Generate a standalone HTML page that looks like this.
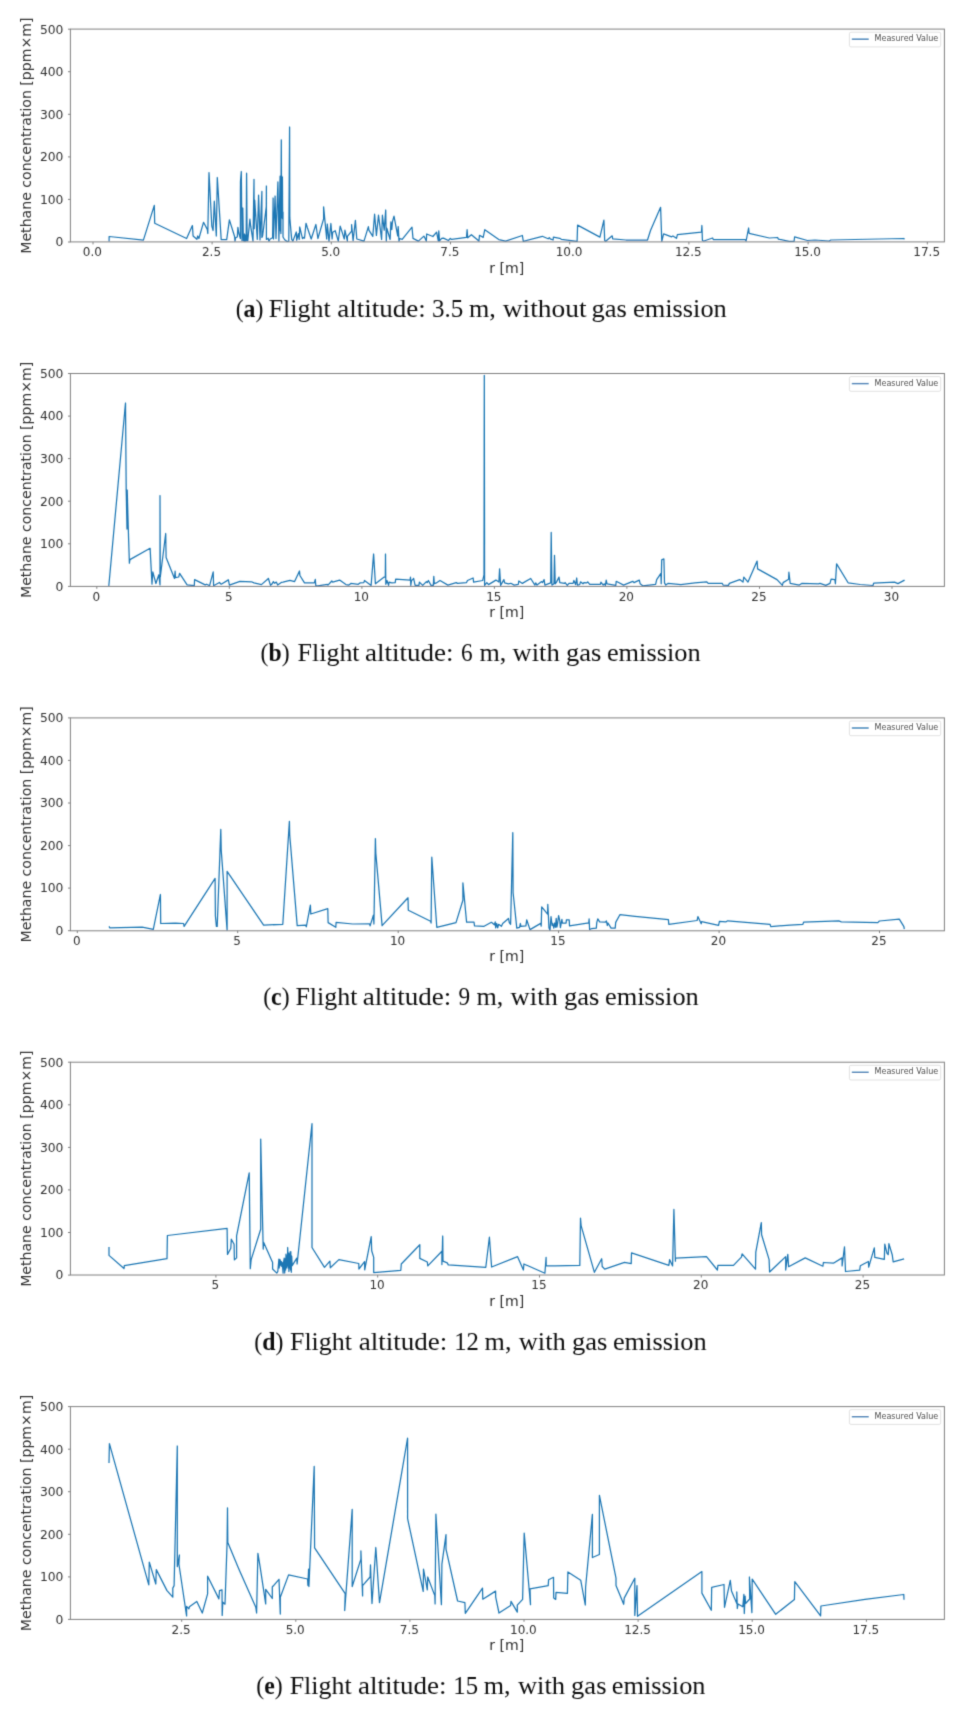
<!DOCTYPE html>
<html lang="en"><head><meta charset="utf-8"><title>Methane concentration vs r</title>
<style>
html,body{margin:0;padding:0;background:#fff;}
body{width:966px;height:1710px;overflow:hidden;}
svg{display:block;}
.plot{filter:url(#soft);}
.t{font-family:"DejaVu Sans","Liberation Sans",sans-serif;fill:#303030;}
.tk{font-size:12.0px;}
.ty{font-size:12.3px;}
.lb{font-size:14.1px;}
.lg{font-size:8px;}
.cap{font-family:"Liberation Serif","DejaVu Serif",serif;font-size:24.5px;fill:#111;}
.sp{fill:none;stroke:#808080;stroke-width:1.0;}
.tm{stroke:#808080;stroke-width:1;}
.ln{fill:none;stroke:#1f77b4;stroke-width:1.25;stroke-linejoin:round;stroke-linecap:butt;}
</style></head><body>
<svg width="966" height="1710" viewBox="0 0 966 1710">
<defs><filter id="soft" x="-5%" y="-5%" width="110%" height="110%"><feConvolveMatrix order="3" kernelMatrix="0.0196 0.1008 0.0196 0.1008 0.5184 0.1008 0.0196 0.1008 0.0196" divisor="1" edgeMode="none" preserveAlpha="false"/></filter></defs>
<rect width="966" height="1710" fill="#fff"/>

<g class="plot">
<polyline class="ln" points="109.1,241.5 109.1,236.5 143.4,240.1 154.3,205.4 154.7,223.3 186.6,238.5 192.4,225.6 193.1,236.0 196.9,239.3 197.7,236.0 198.9,238.5 203.5,222.3 207.3,229.4 207.8,233.5 209.0,172.6 211.8,226.1 213.1,230.5 214.3,201.2 216.3,236.0 217.3,177.5 221.2,239.6 226.7,239.6 229.4,219.9 234.6,236.5 235.0,241.1 235.6,237.8 237.3,237.0 237.9,227.4 238.7,232.8 240.4,238.6 240.4,191.0 240.5,181.5 241.3,171.5 242.0,240.7 242.8,208.0 243.4,240.7 243.8,235.0 244.2,241.0 244.6,234.0 245.0,241.0 245.4,235.5 245.8,241.0 246.2,236.0 246.6,173.2 247.1,240.7 247.8,240.7 249.9,219.2 250.7,226.2 253.0,241.1 254.0,179.4 254.2,228.7 254.7,200.1 257.3,239.4 258.6,195.1 260.0,239.9 261.9,191.4 261.9,237.4 262.6,236.0 266.3,206.5 266.4,186.0 266.4,239.4 268.1,238.2 268.9,241.1 270.2,239.0 272.6,237.8 273.1,198.0 273.5,239.0 275.1,196.0 276.0,238.6 277.9,181.9 278.9,241.1 280.1,176.1 280.4,231.0 280.7,177.0 280.9,233.6 281.1,176.0 281.3,139.8 281.6,216.0 281.9,176.0 282.1,218.0 282.4,177.0 282.7,219.0 283.0,212.0 283.0,237.0 284.7,239.8 287.1,241.5 288.8,241.1 289.6,127.0 289.8,217.9 291.7,239.4 292.9,241.1 296.3,232.0 296.7,240.3 298.3,233.6 299.2,239.4 299.7,227.0 302.5,238.6 303.3,237.4 304.5,238.2 306.0,223.3 307.4,227.8 311.2,239.0 315.9,224.5 317.9,238.5 323.6,218.8 323.6,206.9 326.7,239.0 327.3,224.0 329.0,241.1 330.9,223.5 332.1,239.0 332.7,232.3 335.2,230.7 338.3,241.1 340.2,226.1 344.3,239.0 344.9,230.2 347.4,241.1 347.4,236.4 351.6,231.2 351.6,224.5 353.1,240.6 355.4,220.4 356.8,239.0 364.0,241.1 368.4,226.6 368.9,230.2 372.8,236.4 374.6,214.2 376.4,235.4 378.5,215.2 381.6,239.5 382.4,215.2 384.2,230.2 385.7,210.0 386.3,241.1 386.8,228.1 390.1,239.5 390.9,221.9 391.8,229.5 392.5,221.5 394.0,216.2 397.7,235.9 398.2,226.6 399.0,241.1 399.7,238.5 402.2,239.4 412.0,227.2 413.0,238.4 418.4,241.1 423.9,236.1 424.8,237.8 426.3,241.1 426.7,234.0 432.9,236.5 436.6,232.2 438.3,240.9 438.8,230.9 439.5,240.9 441.6,238.4 443.5,238.1 448.4,240.5 450.3,238.4 451.6,239.4 466.5,237.4 467.1,229.7 467.7,237.8 471.4,234.7 478.9,241.1 479.5,235.3 483.2,237.4 484.8,229.7 498.8,239.6 505.6,241.2 522.4,235.5 523.3,241.3 542.3,236.3 548.1,238.8 549.4,237.6 550.1,238.8 553.1,240.0 553.4,237.1 559.7,238.3 561.3,239.3 577.1,241.3 577.6,225.1 599.9,237.1 603.9,220.2 604.7,240.5 605.7,241.3 612.2,235.8 612.7,238.8 625.9,240.0 647.5,240.0 650.5,230.5 660.6,207.3 661.8,241.3 663.6,233.8 671.6,236.8 672.9,236.0 676.5,238.3 677.4,234.7 701.4,232.2 701.9,225.5 702.4,240.5 703.9,241.0 712.6,238.0 713.3,239.6 745.3,239.6 746.1,241.0 748.6,228.0 749.1,233.3 769.3,238.0 777.6,237.5 778.4,239.1 789.2,241.3 794.1,241.3 794.6,236.8 807.4,240.5 815.0,240.0 829.2,241.0 830.8,240.0 903.7,238.5 904.5,239.3"/>
<rect class="sp" x="70.4" y="29.1" width="874.0" height="212.8"/>
<line class="tm" x1="68.0" x2="70.4" y1="242.0" y2="242.0"/>
<text class="t tk ty" text-anchor="end" x="63.4" y="246.3">0</text>
<line class="tm" x1="68.0" x2="70.4" y1="199.4" y2="199.4"/>
<text class="t tk ty" text-anchor="end" x="63.4" y="203.7">100</text>
<line class="tm" x1="68.0" x2="70.4" y1="156.9" y2="156.9"/>
<text class="t tk ty" text-anchor="end" x="63.4" y="161.2">200</text>
<line class="tm" x1="68.0" x2="70.4" y1="114.3" y2="114.3"/>
<text class="t tk ty" text-anchor="end" x="63.4" y="118.6">300</text>
<line class="tm" x1="68.0" x2="70.4" y1="71.7" y2="71.7"/>
<text class="t tk ty" text-anchor="end" x="63.4" y="76.0">400</text>
<line class="tm" x1="68.0" x2="70.4" y1="29.2" y2="29.2"/>
<text class="t tk ty" text-anchor="end" x="63.4" y="33.5">500</text>
<line class="tm" x1="93.0" x2="93.0" y1="242.0" y2="244.4"/>
<text class="t tk" text-anchor="middle" x="92.4" y="256.2">0.0</text>
<line class="tm" x1="212.1" x2="212.1" y1="242.0" y2="244.4"/>
<text class="t tk" text-anchor="middle" x="211.5" y="256.2">2.5</text>
<line class="tm" x1="331.3" x2="331.3" y1="242.0" y2="244.4"/>
<text class="t tk" text-anchor="middle" x="330.7" y="256.2">5.0</text>
<line class="tm" x1="450.5" x2="450.5" y1="242.0" y2="244.4"/>
<text class="t tk" text-anchor="middle" x="449.9" y="256.2">7.5</text>
<line class="tm" x1="569.7" x2="569.7" y1="242.0" y2="244.4"/>
<text class="t tk" text-anchor="middle" x="569.1" y="256.2">10.0</text>
<line class="tm" x1="688.9" x2="688.9" y1="242.0" y2="244.4"/>
<text class="t tk" text-anchor="middle" x="688.3" y="256.2">12.5</text>
<line class="tm" x1="808.1" x2="808.1" y1="242.0" y2="244.4"/>
<text class="t tk" text-anchor="middle" x="807.5" y="256.2">15.0</text>
<line class="tm" x1="927.3" x2="927.3" y1="242.0" y2="244.4"/>
<text class="t tk" text-anchor="middle" x="926.7" y="256.2">17.5</text>
<text class="t lb" text-anchor="middle" transform="translate(31.2 135.6) rotate(-90)">Methane concentration [ppm×m]</text>
<text class="t lb" text-anchor="middle" x="506.8" y="272.7">r [m]</text>
<rect x="849.4" y="32.2" width="91.3" height="14.7" rx="1.6" fill="#fff" stroke="#d9d9d9" stroke-width="0.8"/>
<line x1="851.8" x2="868.7" y1="39.2" y2="39.2" stroke="#1f77b4" stroke-width="1.4"/>
<text class="t lg" x="874.6" y="41.3">Measured Value</text>
<g class="cap">
<text transform="translate(235.7 316.6) scale(0.970 1)">(<tspan font-weight="bold">a</tspan>)</text>
<text transform="translate(268.7 316.6) scale(1.058 1)">Flight</text>
<text transform="translate(337.3 316.6) scale(1.103 1)">altitude:</text>
<text transform="translate(431.9 316.6) scale(1.024 1)">3.5</text>
<text transform="translate(468.9 316.6) scale(1.065 1)">m,</text>
<text transform="translate(502.8 316.6) scale(1.120 1)">without</text>
<text transform="translate(591.4 316.6) scale(1.084 1)">gas</text>
<text transform="translate(633.1 316.6) scale(1.076 1)">emission</text>
</g>
</g>
<g class="plot">
<polyline class="ln" points="108.8,586.0 125.5,403.0 126.2,490.0 127.0,529.1 127.2,490.0 128.3,529.0 129.4,563.2 129.9,559.6 150.1,548.3 152.0,584.2 152.8,571.9 155.9,583.5 158.8,574.8 160.0,584.9 160.0,495.5 160.3,577.0 165.7,533.5 166.1,557.4 174.5,578.4 175.1,571.2 175.5,577.7 178.7,577.0 179.6,573.3 187.1,584.9 194.3,585.7 194.6,579.6 205.2,584.9 206.7,584.2 209.6,585.7 213.2,571.9 213.6,585.7 219.4,582.5 221.2,584.2 228.4,579.9 229.4,585.1 239.9,581.3 251.5,581.8 254.0,582.9 261.4,584.6 268.4,578.5 270.5,585.4 271.7,584.3 273.4,581.6 274.4,583.3 276.3,582.1 277.7,585.1 281.3,582.4 283.0,582.1 289.9,580.3 294.6,581.6 299.5,571.0 299.9,575.5 304.5,582.9 314.4,582.9 315.3,579.3 315.8,585.8 317.8,585.8 327.4,584.3 328.0,585.1 331.8,581.0 332.7,582.1 339.6,580.1 345.9,584.6 348.9,585.1 350.9,583.4 358.3,584.3 360.0,582.9 363.8,582.6 364.5,580.5 371.1,585.4 373.6,554.0 375.4,583.8 384.2,577.1 385.3,577.1 385.5,554.0 385.8,584.3 387.0,580.5 388.6,585.4 389.1,582.1 391.6,582.9 395.2,582.6 395.7,579.1 410.1,580.1 410.5,577.1 410.8,585.4 411.5,580.5 413.1,579.3 413.6,578.3 415.1,585.4 418.9,585.4 419.4,582.1 422.7,585.4 426.4,581.6 427.2,582.6 428.4,580.5 431.0,585.4 433.3,585.4 433.8,576.3 434.3,583.8 436.3,582.9 440.0,580.5 447.9,585.1 456.2,582.6 457.5,583.4 466.5,582.6 467.5,580.5 473.1,578.0 473.6,582.1 482.7,580.5 484.0,575.0 484.3,375.3 484.6,585.4 486.8,582.6 488.5,584.6 495.9,580.1 498.9,582.1 499.6,568.9 500.6,585.4 503.9,579.6 504.6,582.9 508.4,583.8 510.8,583.3 514.2,585.1 518.3,584.3 518.8,581.0 522.4,583.4 530.7,578.5 534.9,585.1 535.7,582.9 537.0,585.1 541.6,581.6 542.5,582.6 544.1,579.6 544.9,585.1 550.7,582.9 551.2,532.4 551.9,585.1 554.0,583.8 554.5,555.3 555.2,583.8 556.5,582.1 559.0,577.1 559.8,582.6 564.5,583.4 565.1,582.6 567.3,585.4 569.0,583.4 573.1,583.4 573.9,580.5 575.6,584.6 576.7,578.0 577.4,585.1 579.7,584.6 580.5,581.8 583.0,583.8 583.9,582.6 586.7,582.9 587.7,581.8 589.7,584.3 600.4,584.3 600.9,582.1 603.2,585.1 604.2,583.8 605.4,585.4 606.2,580.1 607.0,583.8 615.8,585.4 616.2,581.3 623.6,585.1 632.7,581.3 634.0,582.6 639.3,580.1 640.2,583.8 642.7,585.8 655.6,584.3 656.7,579.6 660.9,573.3 661.2,583.8 661.7,559.8 663.9,558.9 664.5,582.9 665.8,585.1 668.3,583.3 680.8,584.6 695.0,582.9 706.6,581.8 708.2,583.4 722.3,583.4 723.1,585.1 728.4,585.4 729.4,583.4 739.7,579.6 743.0,582.1 743.8,577.1 748.0,582.1 757.1,561.1 757.6,568.9 777.0,579.6 782.4,585.4 783.1,582.6 788.6,579.3 788.9,572.2 790.2,583.4 799.3,585.1 801.8,583.4 818.4,583.8 820.0,583.3 825.8,585.4 830.0,583.4 831.1,579.1 834.9,579.6 835.4,583.8 836.6,563.9 848.1,582.8 860.2,584.5 873.0,585.5 873.7,583.2 894.5,582.1 897.9,583.6 904.6,580.1"/>
<rect class="sp" x="70.4" y="373.5" width="874.0" height="212.9"/>
<line class="tm" x1="68.0" x2="70.4" y1="586.4" y2="586.4"/>
<text class="t tk ty" text-anchor="end" x="63.4" y="590.7">0</text>
<line class="tm" x1="68.0" x2="70.4" y1="543.8" y2="543.8"/>
<text class="t tk ty" text-anchor="end" x="63.4" y="548.1">100</text>
<line class="tm" x1="68.0" x2="70.4" y1="501.2" y2="501.2"/>
<text class="t tk ty" text-anchor="end" x="63.4" y="505.5">200</text>
<line class="tm" x1="68.0" x2="70.4" y1="458.6" y2="458.6"/>
<text class="t tk ty" text-anchor="end" x="63.4" y="462.9">300</text>
<line class="tm" x1="68.0" x2="70.4" y1="416.1" y2="416.1"/>
<text class="t tk ty" text-anchor="end" x="63.4" y="420.4">400</text>
<line class="tm" x1="68.0" x2="70.4" y1="373.5" y2="373.5"/>
<text class="t tk ty" text-anchor="end" x="63.4" y="377.8">500</text>
<line class="tm" x1="96.8" x2="96.8" y1="586.4" y2="588.8"/>
<text class="t tk" text-anchor="middle" x="96.2" y="600.6">0</text>
<line class="tm" x1="229.3" x2="229.3" y1="586.4" y2="588.8"/>
<text class="t tk" text-anchor="middle" x="228.7" y="600.6">5</text>
<line class="tm" x1="361.9" x2="361.9" y1="586.4" y2="588.8"/>
<text class="t tk" text-anchor="middle" x="361.3" y="600.6">10</text>
<line class="tm" x1="494.4" x2="494.4" y1="586.4" y2="588.8"/>
<text class="t tk" text-anchor="middle" x="493.8" y="600.6">15</text>
<line class="tm" x1="626.9" x2="626.9" y1="586.4" y2="588.8"/>
<text class="t tk" text-anchor="middle" x="626.3" y="600.6">20</text>
<line class="tm" x1="759.5" x2="759.5" y1="586.4" y2="588.8"/>
<text class="t tk" text-anchor="middle" x="758.9" y="600.6">25</text>
<line class="tm" x1="892.0" x2="892.0" y1="586.4" y2="588.8"/>
<text class="t tk" text-anchor="middle" x="891.4" y="600.6">30</text>
<text class="t lb" text-anchor="middle" transform="translate(31.2 479.9) rotate(-90)">Methane concentration [ppm×m]</text>
<text class="t lb" text-anchor="middle" x="506.8" y="617.1">r [m]</text>
<rect x="849.4" y="376.6" width="91.3" height="14.7" rx="1.6" fill="#fff" stroke="#d9d9d9" stroke-width="0.8"/>
<line x1="851.8" x2="868.7" y1="383.6" y2="383.6" stroke="#1f77b4" stroke-width="1.4"/>
<text class="t lg" x="874.6" y="385.7">Measured Value</text>
<g class="cap">
<text transform="translate(260.5 661.0) scale(0.970 1)">(<tspan font-weight="bold">b</tspan>)</text>
<text transform="translate(297.6 661.0) scale(1.058 1)">Flight</text>
<text transform="translate(364.9 661.0) scale(1.103 1)">altitude:</text>
<text transform="translate(461.1 661.0) scale(0.950 1)">6</text>
<text transform="translate(479.4 661.0) scale(1.065 1)">m,</text>
<text transform="translate(512.5 661.0) scale(1.084 1)">with</text>
<text transform="translate(566.0 661.0) scale(1.084 1)">gas</text>
<text transform="translate(606.9 661.0) scale(1.076 1)">emission</text>
</g>
</g>
<g class="plot">
<polyline class="ln" points="109.0,926.4 109.9,927.9 142.2,927.1 153.3,929.3 160.4,894.5 160.7,923.5 175.3,923.1 183.6,923.5 184.1,926.4 215.1,878.4 215.4,916.0 216.4,926.4 217.2,926.4 220.8,829.4 221.2,849.8 227.1,930.1 227.1,871.3 263.6,925.1 282.8,924.3 289.4,821.3 289.7,834.8 297.2,925.6 305.5,925.1 306.3,926.8 310.4,905.2 310.8,914.0 327.8,908.6 328.1,922.6 335.8,927.3 336.1,922.3 352.7,924.0 369.6,923.8 370.1,925.9 373.4,915.2 373.9,924.0 375.4,838.7 375.8,853.1 382.1,925.6 408.0,897.8 408.3,910.2 430.6,921.3 431.1,923.0 431.8,857.2 436.8,927.3 456.0,922.6 462.9,900.3 462.9,882.9 466.6,922.1 474.0,922.1 474.5,925.9 484.1,926.3 491.4,922.3 494.4,924.8 495.2,921.8 495.7,927.9 496.7,923.5 497.7,927.9 498.6,924.3 501.4,926.3 502.7,923.5 508.5,918.5 509.3,922.6 510.6,924.3 512.8,832.7 513.1,892.8 516.8,928.1 519.6,927.3 520.4,923.5 520.9,926.4 525.9,925.9 526.7,919.8 530.0,929.6 540.7,923.4 541.2,926.1 541.7,906.9 547.6,914.2 547.8,904.3 549.0,928.1 550.0,930.2 551.0,916.7 552.1,925.5 552.8,923.5 553.8,928.1 554.7,923.0 555.5,927.1 556.2,918.3 556.9,927.1 557.6,923.5 558.6,915.7 559.8,920.9 560.4,927.6 561.9,919.3 562.4,923.0 566.1,923.0 566.4,919.9 569.2,919.9 569.5,925.9 588.8,922.8 589.1,918.8 589.6,929.5 591.4,928.7 596.3,928.1 596.8,922.4 597.8,918.8 599.7,921.9 605.4,922.1 606.4,920.9 607.3,925.5 608.0,923.0 611.1,928.1 615.2,928.1 615.7,922.4 619.9,914.7 635.0,916.4 668.4,919.6 668.8,924.3 697.1,920.5 697.9,916.6 701.2,923.8 701.6,921.6 718.6,925.4 719.4,921.3 726.1,921.8 727.7,920.8 770.0,924.3 770.8,926.6 790.0,925.1 802.9,924.3 803.6,922.1 838.8,920.8 841.3,921.8 877.8,922.6 879.4,921.0 899.3,919.1 903.9,926.6 904.3,929.2"/>
<rect class="sp" x="70.4" y="717.9" width="874.0" height="212.9"/>
<line class="tm" x1="68.0" x2="70.4" y1="930.7" y2="930.7"/>
<text class="t tk ty" text-anchor="end" x="63.4" y="935.0">0</text>
<line class="tm" x1="68.0" x2="70.4" y1="888.1" y2="888.1"/>
<text class="t tk ty" text-anchor="end" x="63.4" y="892.4">100</text>
<line class="tm" x1="68.0" x2="70.4" y1="845.6" y2="845.6"/>
<text class="t tk ty" text-anchor="end" x="63.4" y="849.9">200</text>
<line class="tm" x1="68.0" x2="70.4" y1="803.0" y2="803.0"/>
<text class="t tk ty" text-anchor="end" x="63.4" y="807.3">300</text>
<line class="tm" x1="68.0" x2="70.4" y1="760.4" y2="760.4"/>
<text class="t tk ty" text-anchor="end" x="63.4" y="764.7">400</text>
<line class="tm" x1="68.0" x2="70.4" y1="717.9" y2="717.9"/>
<text class="t tk ty" text-anchor="end" x="63.4" y="722.2">500</text>
<line class="tm" x1="77.3" x2="77.3" y1="930.7" y2="933.1"/>
<text class="t tk" text-anchor="middle" x="76.7" y="944.9">0</text>
<line class="tm" x1="237.7" x2="237.7" y1="930.7" y2="933.1"/>
<text class="t tk" text-anchor="middle" x="237.1" y="944.9">5</text>
<line class="tm" x1="398.2" x2="398.2" y1="930.7" y2="933.1"/>
<text class="t tk" text-anchor="middle" x="397.6" y="944.9">10</text>
<line class="tm" x1="558.6" x2="558.6" y1="930.7" y2="933.1"/>
<text class="t tk" text-anchor="middle" x="558.0" y="944.9">15</text>
<line class="tm" x1="719.1" x2="719.1" y1="930.7" y2="933.1"/>
<text class="t tk" text-anchor="middle" x="718.5" y="944.9">20</text>
<line class="tm" x1="879.5" x2="879.5" y1="930.7" y2="933.1"/>
<text class="t tk" text-anchor="middle" x="878.9" y="944.9">25</text>
<text class="t lb" text-anchor="middle" transform="translate(31.2 824.3) rotate(-90)">Methane concentration [ppm×m]</text>
<text class="t lb" text-anchor="middle" x="506.8" y="961.4">r [m]</text>
<rect x="849.4" y="721.0" width="91.3" height="14.7" rx="1.6" fill="#fff" stroke="#d9d9d9" stroke-width="0.8"/>
<line x1="851.8" x2="868.7" y1="728.0" y2="728.0" stroke="#1f77b4" stroke-width="1.4"/>
<text class="t lg" x="874.6" y="730.1">Measured Value</text>
<g class="cap">
<text transform="translate(263.2 1005.3) scale(0.970 1)">(<tspan font-weight="bold">c</tspan>)</text>
<text transform="translate(295.4 1005.3) scale(1.058 1)">Flight</text>
<text transform="translate(362.7 1005.3) scale(1.103 1)">altitude:</text>
<text transform="translate(458.4 1005.3) scale(0.950 1)">9</text>
<text transform="translate(476.5 1005.3) scale(1.065 1)">m,</text>
<text transform="translate(510.6 1005.3) scale(1.084 1)">with</text>
<text transform="translate(563.9 1005.3) scale(1.084 1)">gas</text>
<text transform="translate(605.1 1005.3) scale(1.076 1)">emission</text>
</g>
</g>
<g class="plot">
<polyline class="ln" points="109.0,1247.1 109.0,1255.4 124.0,1268.5 124.3,1265.7 167.0,1258.7 167.4,1235.5 227.1,1228.4 227.5,1254.4 230.8,1248.3 231.3,1239.2 234.1,1244.2 234.4,1259.9 236.6,1257.9 236.6,1235.9 249.2,1172.8 250.3,1268.7 251.1,1259.9 260.7,1229.3 260.7,1139.0 263.2,1249.1 263.7,1242.5 272.6,1262.4 272.6,1269.0 276.8,1273.1 277.8,1271.5 278.9,1259.1 279.2,1268.0 279.6,1259.5 279.9,1266.0 280.2,1259.9 280.8,1265.0 281.4,1261.5 281.8,1266.5 282.2,1262.4 283.1,1273.1 283.6,1262.0 284.2,1258.2 284.7,1273.1 285.2,1259.0 285.6,1270.0 286.0,1254.1 286.4,1268.0 286.9,1256.0 287.3,1266.0 287.7,1247.5 288.1,1268.0 288.5,1253.0 288.9,1271.5 289.3,1254.0 289.7,1268.0 290.1,1252.0 290.5,1270.0 290.8,1251.6 291.3,1272.3 291.7,1256.0 292.2,1265.7 296.8,1258.2 297.1,1264.0 312.0,1123.7 312.0,1247.5 324.5,1267.3 329.9,1261.1 330.3,1267.8 338.9,1259.6 358.8,1263.5 358.9,1269.0 364.6,1261.6 364.7,1269.8 371.2,1236.7 371.7,1250.8 373.7,1257.4 373.7,1272.6 400.8,1270.3 401.3,1264.0 419.8,1244.7 419.8,1258.4 427.3,1262.0 427.8,1265.9 441.9,1251.3 441.9,1264.5 442.7,1236.0 443.0,1261.2 447.2,1262.9 448.3,1264.9 485.8,1267.3 489.4,1237.2 491.6,1267.0 517.6,1256.7 523.4,1270.0 523.9,1264.0 544.9,1273.3 546.1,1257.4 546.2,1265.9 555.0,1265.9 579.8,1265.4 580.5,1218.2 581.1,1225.6 594.4,1272.3 601.7,1258.7 602.2,1266.5 604.7,1269.2 624.5,1262.4 631.2,1263.7 631.5,1252.9 668.9,1265.4 669.6,1259.6 672.6,1265.9 673.9,1209.4 675.4,1261.2 675.5,1258.2 706.5,1256.7 717.4,1270.0 717.9,1265.4 733.5,1265.4 741.4,1257.1 742.1,1253.8 755.5,1269.2 755.8,1252.1 761.3,1222.6 761.6,1234.7 769.1,1259.6 769.6,1272.0 785.7,1256.6 785.7,1270.0 787.8,1254.3 788.6,1266.7 805.2,1257.9 822.9,1266.2 823.4,1262.5 833.4,1263.2 842.1,1257.9 842.1,1265.9 844.5,1246.8 845.5,1271.5 859.7,1270.2 860.3,1265.8 868.4,1261.5 868.7,1267.1 874.3,1247.8 874.8,1257.4 884.3,1259.4 884.8,1244.1 887.0,1253.4 888.2,1254.7 888.9,1243.7 892.2,1254.7 893.2,1261.9 904.1,1258.8"/>
<rect class="sp" x="70.4" y="1062.2" width="874.0" height="212.8"/>
<line class="tm" x1="68.0" x2="70.4" y1="1275.1" y2="1275.1"/>
<text class="t tk ty" text-anchor="end" x="63.4" y="1279.4">0</text>
<line class="tm" x1="68.0" x2="70.4" y1="1232.5" y2="1232.5"/>
<text class="t tk ty" text-anchor="end" x="63.4" y="1236.8">100</text>
<line class="tm" x1="68.0" x2="70.4" y1="1189.9" y2="1189.9"/>
<text class="t tk ty" text-anchor="end" x="63.4" y="1194.2">200</text>
<line class="tm" x1="68.0" x2="70.4" y1="1147.4" y2="1147.4"/>
<text class="t tk ty" text-anchor="end" x="63.4" y="1151.7">300</text>
<line class="tm" x1="68.0" x2="70.4" y1="1104.8" y2="1104.8"/>
<text class="t tk ty" text-anchor="end" x="63.4" y="1109.1">400</text>
<line class="tm" x1="68.0" x2="70.4" y1="1062.2" y2="1062.2"/>
<text class="t tk ty" text-anchor="end" x="63.4" y="1066.5">500</text>
<line class="tm" x1="215.9" x2="215.9" y1="1275.1" y2="1277.5"/>
<text class="t tk" text-anchor="middle" x="215.3" y="1289.3">5</text>
<line class="tm" x1="377.7" x2="377.7" y1="1275.1" y2="1277.5"/>
<text class="t tk" text-anchor="middle" x="377.1" y="1289.3">10</text>
<line class="tm" x1="539.5" x2="539.5" y1="1275.1" y2="1277.5"/>
<text class="t tk" text-anchor="middle" x="538.9" y="1289.3">15</text>
<line class="tm" x1="701.3" x2="701.3" y1="1275.1" y2="1277.5"/>
<text class="t tk" text-anchor="middle" x="700.7" y="1289.3">20</text>
<line class="tm" x1="863.1" x2="863.1" y1="1275.1" y2="1277.5"/>
<text class="t tk" text-anchor="middle" x="862.5" y="1289.3">25</text>
<text class="t lb" text-anchor="middle" transform="translate(31.2 1168.7) rotate(-90)">Methane concentration [ppm×m]</text>
<text class="t lb" text-anchor="middle" x="506.8" y="1305.8">r [m]</text>
<rect x="849.4" y="1065.3" width="91.3" height="14.7" rx="1.6" fill="#fff" stroke="#d9d9d9" stroke-width="0.8"/>
<line x1="851.8" x2="868.7" y1="1072.3" y2="1072.3" stroke="#1f77b4" stroke-width="1.4"/>
<text class="t lg" x="874.6" y="1074.4">Measured Value</text>
<g class="cap">
<text transform="translate(254.3 1349.7) scale(0.970 1)">(<tspan font-weight="bold">d</tspan>)</text>
<text transform="translate(290.0 1349.7) scale(1.058 1)">Flight</text>
<text transform="translate(358.7 1349.7) scale(1.103 1)">altitude:</text>
<text transform="translate(454.2 1349.7) scale(1.010 1)">12</text>
<text transform="translate(484.6 1349.7) scale(1.065 1)">m,</text>
<text transform="translate(518.7 1349.7) scale(1.084 1)">with</text>
<text transform="translate(572.0 1349.7) scale(1.084 1)">gas</text>
<text transform="translate(612.9 1349.7) scale(1.076 1)">emission</text>
</g>
</g>
<g class="plot">
<polyline class="ln" points="109.0,1463.1 109.4,1443.7 148.8,1584.8 149.3,1562.1 155.8,1584.0 156.3,1569.6 167.0,1590.6 172.8,1597.2 172.8,1588.1 174.1,1585.6 177.3,1446.0 177.3,1566.6 179.4,1555.0 178.9,1564.0 186.6,1615.9 186.6,1606.3 188.9,1608.8 189.4,1606.8 196.8,1601.4 202.3,1613.0 207.6,1593.9 207.6,1576.2 218.9,1598.9 219.5,1590.6 222.0,1589.8 222.2,1615.4 222.8,1602.2 225.0,1604.2 227.1,1542.6 227.5,1507.8 227.8,1542.6 238.2,1567.4 239.6,1570.7 255.8,1607.2 256.6,1613.0 257.9,1553.3 260.2,1567.4 265.7,1603.9 265.7,1589.3 272.3,1598.5 272.3,1587.0 279.0,1579.3 280.3,1614.1 280.3,1597.2 288.6,1574.9 307.6,1579.0 307.9,1585.3 308.6,1569.1 308.9,1586.5 314.2,1466.4 314.6,1547.9 345.2,1593.6 344.7,1610.5 352.2,1509.4 352.2,1586.5 360.9,1559.1 360.9,1550.8 362.6,1595.9 362.6,1585.6 370.1,1577.0 370.5,1564.9 371.2,1585.3 372.0,1603.5 375.8,1547.5 379.5,1602.7 407.6,1438.2 407.6,1518.6 423.2,1591.4 423.5,1569.1 427.3,1589.8 427.7,1577.0 434.8,1595.6 435.1,1603.9 435.9,1514.1 441.4,1604.7 441.9,1564.1 446.0,1534.6 446.0,1549.2 457.6,1601.0 464.9,1602.7 465.3,1613.3 482.5,1588.1 482.8,1599.2 495.6,1591.1 495.7,1597.2 499.0,1613.0 510.6,1605.5 511.0,1601.4 517.3,1612.1 517.3,1605.2 522.6,1599.4 524.2,1533.1 530.5,1604.7 530.0,1588.9 548.2,1585.6 548.6,1579.8 553.5,1577.3 553.7,1598.1 555.7,1599.4 556.0,1592.3 567.4,1593.4 567.9,1571.9 580.7,1580.2 585.3,1605.0 585.6,1587.3 592.4,1514.4 592.4,1557.5 599.4,1554.5 599.4,1495.4 616.0,1578.2 616.0,1585.6 623.7,1604.3 624.2,1598.1 634.8,1578.2 634.8,1615.4 637.0,1585.6 637.5,1616.3 701.9,1571.6 701.9,1593.1 711.3,1610.3 711.7,1587.3 724.0,1584.5 724.5,1607.3 730.3,1580.3 731.5,1591.1 736.8,1603.5 736.8,1591.9 737.3,1608.5 738.1,1604.0 742.8,1606.8 743.9,1594.4 744.3,1613.5 745.1,1596.1 745.6,1603.5 749.7,1599.0 749.4,1577.0 751.9,1612.6 752.2,1579.2 775.7,1614.3 794.4,1599.4 794.8,1581.7 820.6,1615.9 820.9,1606.0 865.0,1599.4 903.8,1594.5 904.0,1599.7"/>
<rect class="sp" x="70.4" y="1406.6" width="874.0" height="212.8"/>
<line class="tm" x1="68.0" x2="70.4" y1="1619.4" y2="1619.4"/>
<text class="t tk ty" text-anchor="end" x="63.4" y="1623.7">0</text>
<line class="tm" x1="68.0" x2="70.4" y1="1576.9" y2="1576.9"/>
<text class="t tk ty" text-anchor="end" x="63.4" y="1581.2">100</text>
<line class="tm" x1="68.0" x2="70.4" y1="1534.3" y2="1534.3"/>
<text class="t tk ty" text-anchor="end" x="63.4" y="1538.6">200</text>
<line class="tm" x1="68.0" x2="70.4" y1="1491.7" y2="1491.7"/>
<text class="t tk ty" text-anchor="end" x="63.4" y="1496.0">300</text>
<line class="tm" x1="68.0" x2="70.4" y1="1449.2" y2="1449.2"/>
<text class="t tk ty" text-anchor="end" x="63.4" y="1453.5">400</text>
<line class="tm" x1="68.0" x2="70.4" y1="1406.6" y2="1406.6"/>
<text class="t tk ty" text-anchor="end" x="63.4" y="1410.9">500</text>
<line class="tm" x1="181.7" x2="181.7" y1="1619.4" y2="1621.8"/>
<text class="t tk" text-anchor="middle" x="181.1" y="1633.6">2.5</text>
<line class="tm" x1="295.8" x2="295.8" y1="1619.4" y2="1621.8"/>
<text class="t tk" text-anchor="middle" x="295.2" y="1633.6">5.0</text>
<line class="tm" x1="409.9" x2="409.9" y1="1619.4" y2="1621.8"/>
<text class="t tk" text-anchor="middle" x="409.3" y="1633.6">7.5</text>
<line class="tm" x1="524.0" x2="524.0" y1="1619.4" y2="1621.8"/>
<text class="t tk" text-anchor="middle" x="523.4" y="1633.6">10.0</text>
<line class="tm" x1="638.1" x2="638.1" y1="1619.4" y2="1621.8"/>
<text class="t tk" text-anchor="middle" x="637.5" y="1633.6">12.5</text>
<line class="tm" x1="752.2" x2="752.2" y1="1619.4" y2="1621.8"/>
<text class="t tk" text-anchor="middle" x="751.6" y="1633.6">15.0</text>
<line class="tm" x1="866.4" x2="866.4" y1="1619.4" y2="1621.8"/>
<text class="t tk" text-anchor="middle" x="865.8" y="1633.6">17.5</text>
<text class="t lb" text-anchor="middle" transform="translate(31.2 1513.0) rotate(-90)">Methane concentration [ppm×m]</text>
<text class="t lb" text-anchor="middle" x="506.8" y="1650.1">r [m]</text>
<rect x="849.4" y="1409.7" width="91.3" height="14.7" rx="1.6" fill="#fff" stroke="#d9d9d9" stroke-width="0.8"/>
<line x1="851.8" x2="868.7" y1="1416.7" y2="1416.7" stroke="#1f77b4" stroke-width="1.4"/>
<text class="t lg" x="874.6" y="1418.8">Measured Value</text>
<g class="cap">
<text transform="translate(256.3 1694.0) scale(0.970 1)">(<tspan font-weight="bold">e</tspan>)</text>
<text transform="translate(289.7 1694.0) scale(1.058 1)">Flight</text>
<text transform="translate(357.9 1694.0) scale(1.103 1)">altitude:</text>
<text transform="translate(453.3 1694.0) scale(1.010 1)">15</text>
<text transform="translate(483.7 1694.0) scale(1.065 1)">m,</text>
<text transform="translate(517.9 1694.0) scale(1.084 1)">with</text>
<text transform="translate(571.1 1694.0) scale(1.084 1)">gas</text>
<text transform="translate(611.8 1694.0) scale(1.076 1)">emission</text>
</g>
</g>
</svg></body></html>
